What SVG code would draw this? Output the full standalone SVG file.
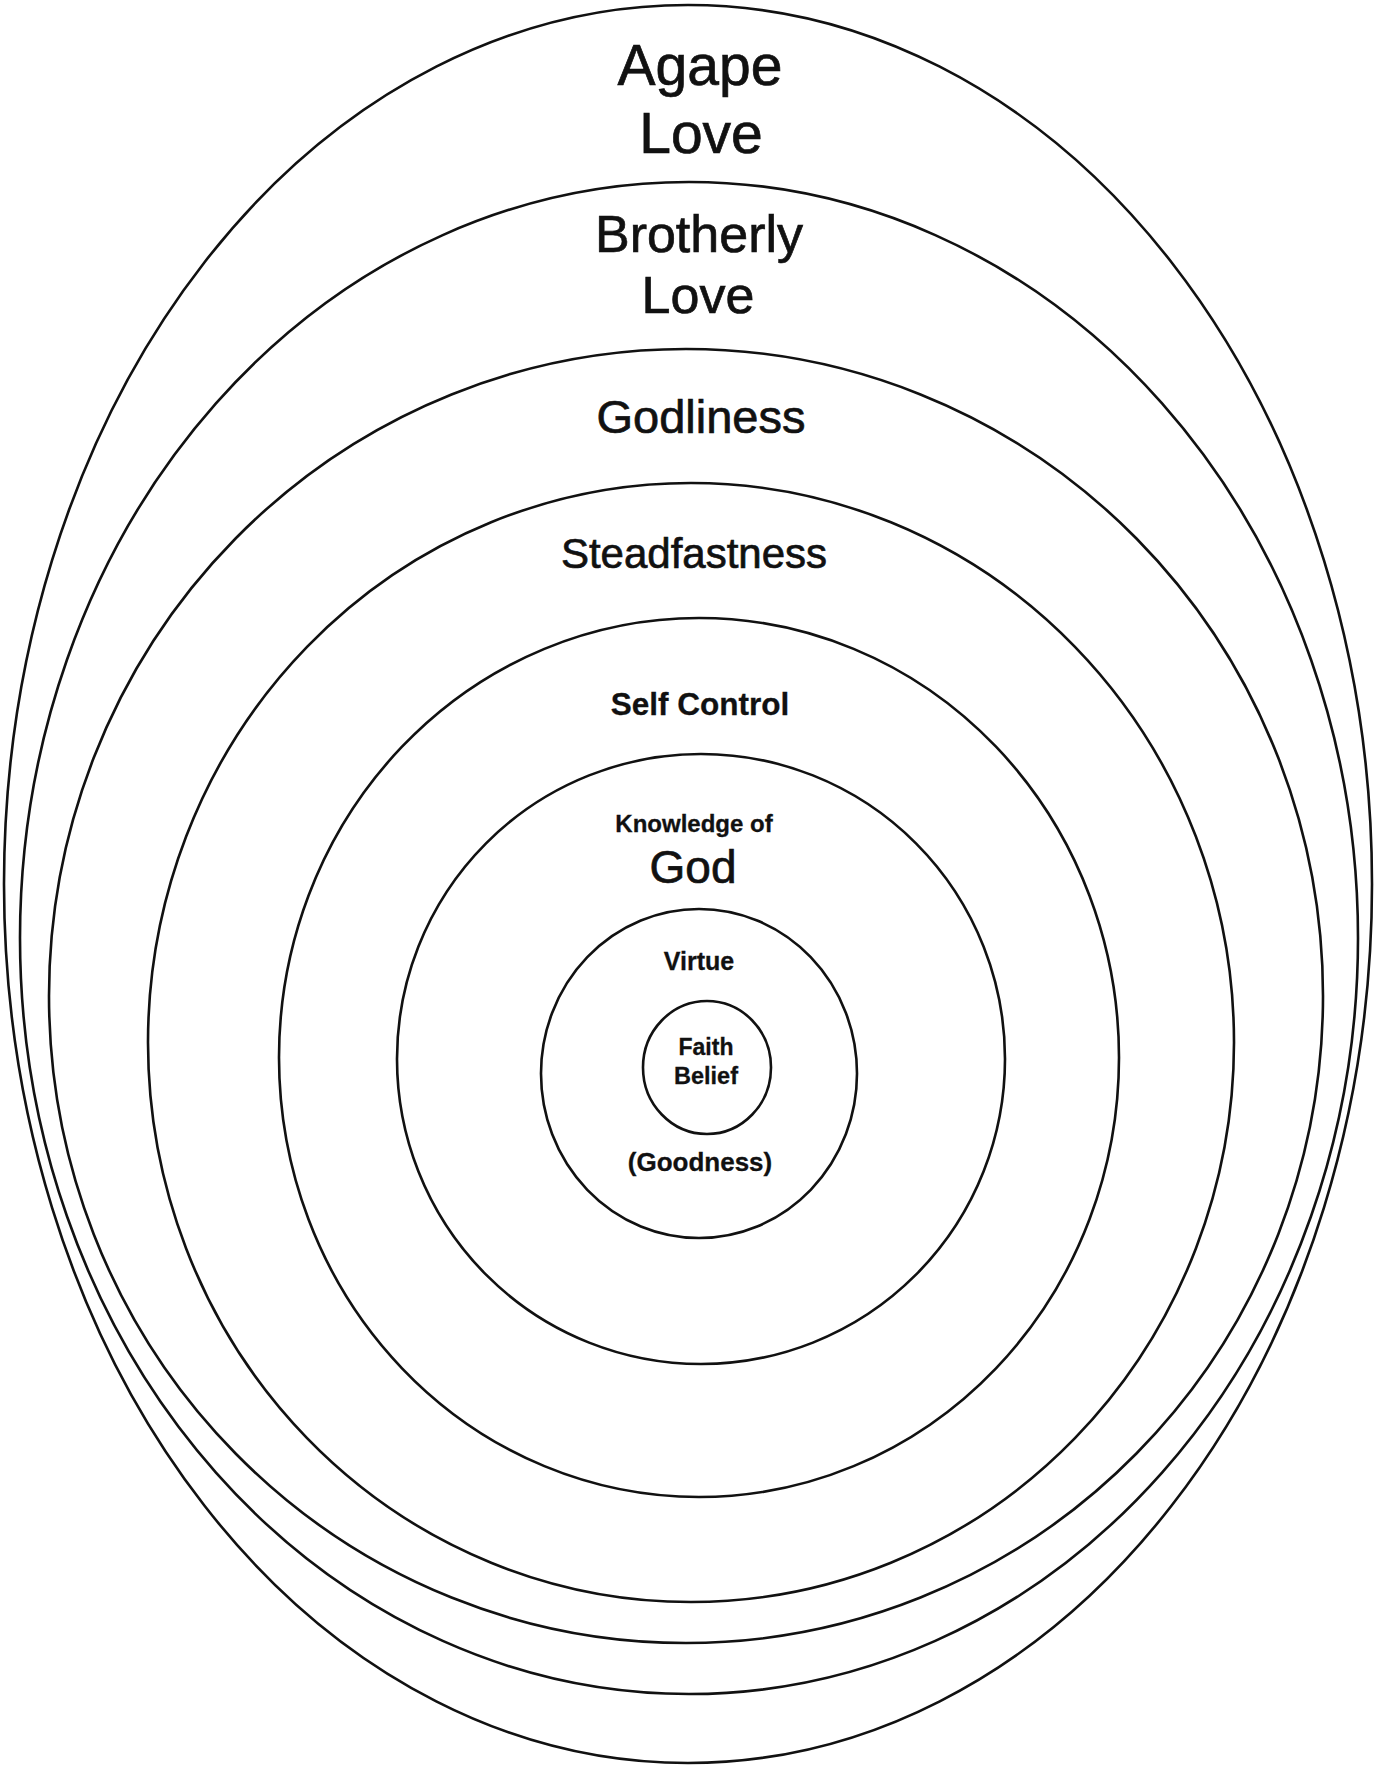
<svg xmlns="http://www.w3.org/2000/svg" width="1377" height="1766" viewBox="0 0 1377 1766">
  <style>
    .ring { fill: none; stroke: #111; stroke-width: 2.6; }
    .lbl { font-family: "Liberation Sans", Arial, sans-serif; fill: #111; text-anchor: middle; stroke: #111; stroke-width: 0.7; }
    .b { font-weight: bold; stroke-width: 0.3; }
  </style>
  <rect x="0" y="0" width="1377" height="1766" fill="#ffffff"/>
  <g id="agape-love">
    <ellipse class="ring" cx="688" cy="884" rx="684" ry="879"/>
    <text class="lbl" x="700" y="85" font-size="57">Agape</text>
    <text class="lbl" x="701" y="153" font-size="57">Love</text>
  </g>
  <g id="brotherly-love">
    <ellipse class="ring" cx="689" cy="938" rx="669" ry="756"/>
    <text class="lbl" x="699" y="252" font-size="52">Brotherly</text>
    <text class="lbl" x="698" y="313" font-size="52">Love</text>
  </g>
  <g id="godliness">
    <ellipse class="ring" cx="686" cy="996" rx="637" ry="647"/>
    <text class="lbl" x="701" y="433" font-size="47">Godliness</text>
  </g>
  <g id="steadfastness">
    <ellipse class="ring" cx="691" cy="1042.5" rx="543" ry="559.5"/>
    <text class="lbl" x="694" y="568" font-size="42">Steadfastness</text>
  </g>
  <g id="self-control">
    <ellipse class="ring" cx="699" cy="1057.5" rx="420" ry="439.5"/>
    <text class="lbl b" x="700" y="715" font-size="31.5">Self Control</text>
  </g>
  <g id="knowledge-of-god">
    <ellipse class="ring" cx="701" cy="1059" rx="304" ry="305"/>
    <text class="lbl b" x="694" y="832" font-size="24">Knowledge of</text>
    <text class="lbl" x="693" y="883" font-size="46">God</text>
  </g>
  <g id="virtue">
    <ellipse class="ring" cx="699" cy="1073.5" rx="158" ry="164.5"/>
    <text class="lbl b" x="699" y="970" font-size="25">Virtue</text>
    <text class="lbl b" x="700" y="1171" font-size="26">(Goodness)</text>
  </g>
  <g id="faith-belief">
    <ellipse class="ring" cx="707" cy="1067.5" rx="64" ry="66.5"/>
    <text class="lbl b" x="706" y="1055" font-size="23">Faith</text>
    <text class="lbl b" x="706" y="1084" font-size="23.5">Belief</text>
  </g>
  <g id="connectors"></g>
</svg>
